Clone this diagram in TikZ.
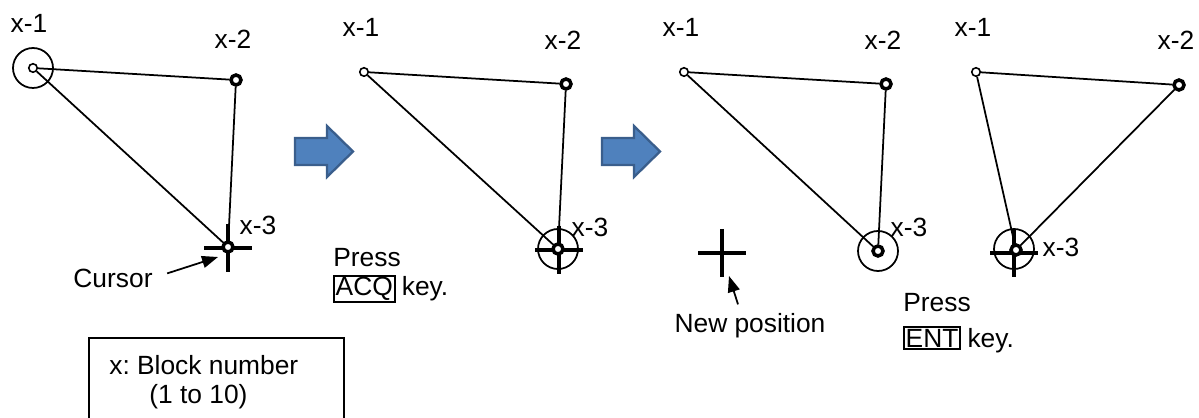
\documentclass[tikz,border=0pt]{standalone}
\usepackage{fontspec}
\setmainfont{Liberation Sans}
\usepackage{tikz}
\usetikzlibrary{arrows.meta,calc,positioning}
\definecolor{arrfill}{RGB}{79,129,189}
\definecolor{arrline}{RGB}{58,94,140}
\frenchspacing
\tikzset{
  edge/.style    = {line width=1pt},
  ptopen/.style  = {circle, draw, fill=white, line width=0.9pt, inner sep=0pt, minimum size=0.17cm},
  ptbold/.style  = {circle, draw, fill=white, line width=2pt, inner sep=0pt, minimum size=0.2cm},
  ring/.style    = {circle, draw, line width=1pt, inner sep=0pt, minimum size=0.8cm},
  lbl/.style     = {font=\fontsize{15}{18}\selectfont, inner sep=0pt},
  keybox/.style  = {lbl, draw, line width=1.1pt, inner sep=1pt},
  ptr/.style     = {-{Triangle[length=0.32cm,width=0.24cm]}, line width=1pt},
  bluearr/.style = {fill=arrfill, draw=arrline, line width=1.3pt},
  crosshair/.pic = {\draw[line width=2.6pt] (-24,0) -- (24,0) (0,-24) -- (0,24);}
}

\begin{document}
\begin{tikzpicture}[x=0.02cm,y=-0.02cm]
  \useasboundingbox (0,0) rectangle (1199,418);
  % step 1: cursor on x-3
  \node[ring] (ra1) at (33,68) {};
  \node[ptopen] (a1) at (33,68) {};
  \node[ptbold] (a2) at (236,80) {};
  \pic at (228,248) {crosshair};
  \node[ptbold] (a3) at (228,247) {};
  \draw[edge] (a1) -- (a2) -- (a3) -- (a1);
  \node[lbl] (la1) at (29,23) {x-1};
  \node[lbl] (la2) at (233,39) {x-2};
  \node[lbl] (la3) at (258,225) {x-3};
  \node[lbl] (cur) at (113,278) {Cursor};
  \coordinate (curt) at (218,257);
  \draw[ptr,shorten <=0.3cm] (cur.east) -- (curt);
  \node[lbl,anchor=west] (leg1) at (109,365) {x: Block number};
  \node[lbl,anchor=west] (leg2) at (149,397) {(1 to 10)};
  \draw[edge] (89,430) |- (344,338) -- (344,430);

  \foreach \x in {295,602}
    { \draw[bluearr] (\x,138) -- ++(32,0) -- ++(0,-12) -- ++(26,25.5)
        -- ++(-26,25.5) -- ++(0,-12) -- ++(-32,0) -- cycle; }

  % step 2: ACQ
  \node[ptopen] (b1) at (364,72) {};
  \node[ptbold] (b2) at (566,84) {};
  \node[ring] (rb3) at (558,249) {};
  \pic at (559,250) {crosshair};
  \node[ptbold] (b3) at (558,249) {};
  \draw[edge] (b1) -- (b2) -- (b3) -- (b1);
  \node[lbl] (lb1) at (361,27) {x-1};
  \node[lbl] (lb2) at (563,40) {x-2};
  \node[lbl] (lb3) at (590,227) {x-3};
  \node[lbl,anchor=west] (pr2) at (333,258) {Press};
  \node[keybox,anchor=west] (acq) at (333,289) {ACQ};
  \node[lbl,anchor=base west] (ky2) at ([xshift=0.12cm]acq.base east) {key.};

  % step 3: new position
  \node[ptopen] (c1) at (684,72) {};
  \node[ptbold] (c2) at (886,84) {};
  \node[ring] (rc3) at (878,251) {};
  \node[ptbold] (c3) at (878,251) {};
  \draw[edge] (c1) -- (c2) -- (c3) -- (c1);
  \node[lbl] (lc1) at (681,27) {x-1};
  \node[lbl] (lc2) at (883,40) {x-2};
  \node[lbl] (lc3) at (909,227) {x-3};
  \pic at (722,253) {crosshair};
  \node[lbl] (newpos) at (750,326) {New position};
  \coordinate (npt) at (729,276);
  \draw[ptr] ($(newpos.north)+(-12,-9)$) -- (npt);

  % step 4: ENT
  \node[ptopen] (d1) at (976,72) {};
  \node[ptbold] (d2) at (1179,85) {};
  \node[ring] (rd3) at (1014,249) {};
  \pic at (1014,253) {crosshair};
  \node[ptbold] (d3) at (1016,250) {};
  \draw[edge] (d1) -- (d2) -- (d3) -- (d1);
  \node[lbl] (ld1) at (973,27) {x-1};
  \node[lbl] (ld2) at (1176,40) {x-2};
  \node[lbl] (ld3) at (1061,247) {x-3};
  \node[lbl,anchor=west] (pr4) at (903,303) {Press};
  \node[keybox,anchor=west] (ent) at (903,338) {ENT};
  \node[lbl,anchor=base west] (ky4) at ([xshift=0.12cm]ent.base east) {key.};
\end{tikzpicture}
\end{document}
